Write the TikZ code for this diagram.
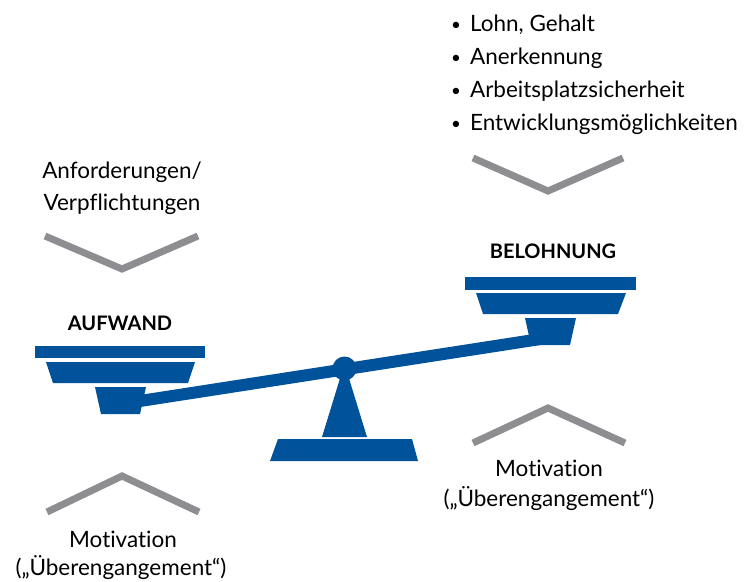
\documentclass[tikz,border=0pt]{standalone}
\usepackage{fontspec}
\setmainfont{Lato}[Ligatures=NoCommon]
\usetikzlibrary{positioning}
\definecolor{scaleblue}{RGB}{0,82,155}
\definecolor{chevgray}{RGB}{142,142,146}
\newcommand{\itembullet}{{\fontsize{17}{20}\selectfont\raisebox{0.5pt}{•}}\hspace{9pt}}

\begin{document}
\begin{tikzpicture}[x=1pt,y=-1pt,
  blue part/.style={fill=scaleblue, draw=none},
  chevron/.style={draw=chevgray, line width=7pt},
  label text/.style={font=\fontsize{22.5}{26}\selectfont, inner sep=0pt, anchor=base},
  head text/.style={font=\fontsize{20}{24}\selectfont\bfseries, inner sep=0pt, anchor=base},
  item text/.style={font=\fontsize{22.5}{26}\selectfont, inner sep=0pt, anchor=base west}]
\useasboundingbox (0,0) rectangle (751,581);

\coordinate (lhook) at (118,404.4);
\coordinate (rhook) at (552,337.2);
\coordinate (pivot) at (344.5,368.5);
\draw[scaleblue, line width=12pt] (lhook)--(rhook);
\fill[blue part] (339.5,380)--(349.5,380)--(367,437)--(322,437)--cycle;
\fill[blue part] (344.5,364)--(339.5,380)--(349.5,380)--cycle;
\fill[scaleblue] (pivot) circle (12);
\fill[blue part] (278,439)--(412,439)--(418,461)--(270,461)--cycle;

\fill[blue part] (35,346) rectangle (205,358);
\fill[blue part] (46,362)--(195,362)--(188,383)--(53,383)--cycle;
\fill[blue part] (95,387)--(146,387)--(140,414)--(101,414)--cycle;

\fill[blue part] (465,277) rectangle (636,290);
\fill[blue part] (476,293)--(626,293)--(618,314)--(483,314)--cycle;
\fill[blue part] (525,318)--(576,318)--(570,345)--(531,345)--cycle;

\draw[chevron] (45,236)--(122,269)--(198,236);
\draw[chevron] (473,158)--(548,191)--(623,158);
\draw[chevron] (47,512)--(122,476)--(199,512);
\draw[chevron] (473,443)--(548,408)--(625,443);

\node[head text] (aufwand) at (120,330) {AUFWAND};
\node[head text] (belohnung) at (553,258) {BELOHNUNG};

\node[label text] (anf) at (122,178) {Anforderungen/};
\node[label text] (verpfl) at (122,210) {Verpflichtungen};

\node[label text] (motl) at (123,547) {Motivation};
\node[label text] (uebl) at (121,575) {(„Überengangement“)};
\node[label text] (motr) at (549,476) {Motivation};
\node[label text] (uebr) at (549,506) {(„Überengangement“)};

\node[item text] (lohn) at (451,31) {\itembullet Lohn, Gehalt};
\node[item text] (anerk) at (451,64) {\itembullet Anerkennung};
\node[item text] (arbeit) at (451,97) {\itembullet Arbeitsplatzsicherheit};
\node[item text] (entw) at (451,130) {\itembullet Entwicklungsmöglichkeiten};
\end{tikzpicture}
\end{document}
